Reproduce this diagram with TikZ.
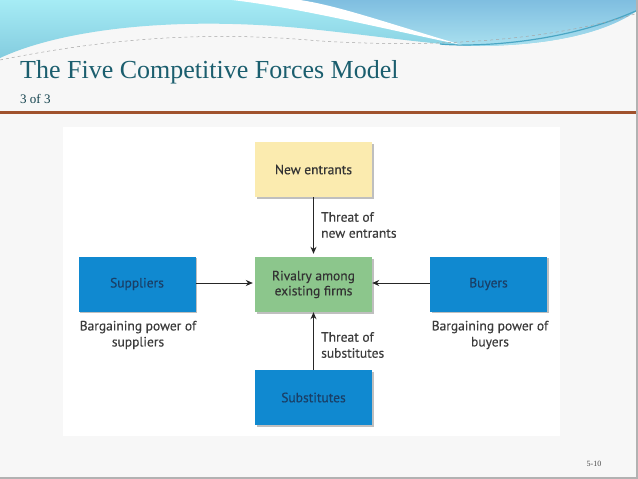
\documentclass[tikz,border=0pt]{standalone}
\usepackage{fontspec}
\setmainfont{Liberation Serif}
\newfontfamily\diagfont[FakeBold=0.35]{PT Sans}
\usetikzlibrary{arrows.meta,shadows}
\definecolor{slidebg}{HTML}{F7F7F7}
\definecolor{cyanL}{HTML}{A6ECF5}
\definecolor{cyanD}{HTML}{84CCDF}
\definecolor{bandT}{HTML}{7FBEE0}
\definecolor{bandB}{HTML}{A9E0EF}
\definecolor{bandLine}{HTML}{4AA6C4}
\definecolor{titlecol}{HTML}{1B5E6E}
\definecolor{rulecol}{HTML}{A0522D}
\definecolor{boxblue}{HTML}{1089D0}
\definecolor{boxgreen}{HTML}{8CC68C}
\definecolor{boxyellow}{HTML}{FBEBAF}
\definecolor{navytext}{HTML}{1A3F66}
\definecolor{darktext}{HTML}{333333}
\definecolor{labeltext}{HTML}{3C3C3C}
\tikzset{
  forcebox/.style={minimum width=117pt, minimum height=55pt, inner sep=0pt, align=center,
    font=\diagfont\fontsize{13.5}{15}\selectfont,
    drop shadow={shadow xshift=1.5pt, shadow yshift=-1.5pt, opacity=0.25, fill=black}},
  bluebox/.style={forcebox, fill=boxblue, text=navytext},
  forcelabel/.style={inner sep=0pt, text=labeltext, font=\diagfont\fontsize{13.5}{16}\selectfont},
  forcearrow/.style={-{Stealth[length=7pt,width=6pt]}, line width=1pt, draw=black!85}
}
\begin{document}
\begin{tikzpicture}[x=1pt,y=-1pt]
\useasboundingbox (0,0) rectangle (638,479);
% slide background
\fill[slidebg] (0,0) rectangle (638,479);
% header waves
\shade[top color=cyanL, bottom color=cyanD] (0,0) -- (0,58) .. controls (60,30) and (170,16) .. (300,28)
  .. controls (380,36) and (440,46) .. (480,46) .. controls (560,45) and (610,30) .. (638,10) -- (638,0) -- cycle;
\shade[top color=bandT, bottom color=bandB] (290,0) .. controls (350,14) and (400,30) .. (450,42)
  .. controls (465,46) and (472,46) .. (480,46) .. controls (560,45) and (610,30) .. (638,10) -- (638,0) -- cycle;
\draw[bandLine, line width=1.2pt] (440,44) .. controls (470,47) and (560,45) .. (638,10);
\fill[white] (232,0) .. controls (300,8) and (380,28) .. (462,45)
  .. controls (390,24) and (340,6) .. (300,0) -- cycle;
\draw[gray!70, dashed, line width=0.5pt] (0,60) .. controls (100,40) and (200,30) .. (320,41)
  .. controls (420,47) and (540,44) .. (638,13);
% title
\node[anchor=base west, inner sep=0pt, text=titlecol, font=\fontsize{26}{28}\selectfont] (title) at (20,78) {The Five Competitive Forces Model};
\node[anchor=base west, inner sep=0pt, text=titlecol!70!black, font=\fontsize{13}{14}\selectfont] (sub) at (20,103) {3 of 3};
\fill[rulecol] (0,111) rectangle (638,113.5);
% diagram panel
\fill[white] (63,127) rectangle (560,436);
% boxes
\node[forcebox, fill=boxyellow, text=darktext] (new) at (313.5,169.5) {New entrants};
\node[forcebox, fill=boxgreen, text=darktext] (rival) at (313.5,284.5) {Rivalry among\\existing firms};
\node[bluebox] (sup) at (137,284) {Suppliers};
\node[bluebox] (buy) at (488.5,284) {Buyers};
\node[bluebox] (subst) at (313.5,397.5) {Substitutes};
% arrows
\draw[forcearrow, shorten >=3pt] (new) -- (rival);
\draw[forcearrow, shorten >=2pt] (sup.east |- 0,283) -- (rival.west |- 0,283);
\draw[forcearrow] (buy.west |- 0,283) -- (rival.east |- 0,283);
\draw[forcearrow] (subst) -- (rival);
% labels
\node[forcelabel, anchor=west, align=left] (lnew) at (321,225) {Threat of\\new entrants};
\node[forcelabel, anchor=west, align=left] (lsub) at (321,345) {Threat of\\substitutes};
\node[forcelabel, align=center] (lsup) at (138,335) {Bargaining power of\\suppliers};
\node[forcelabel, align=center] (lbuy) at (490,335) {Bargaining power of\\buyers};
% page number
\node[inner sep=0pt, text=black!70, font=\fontsize{8}{9}\selectfont] (pg) at (594,464) {5-10};
% slide edge shadow
\fill[black!30] (636,0) rectangle (638,479);
\fill[black!30] (0,477) rectangle (638,479);
\end{tikzpicture}
\end{document}
